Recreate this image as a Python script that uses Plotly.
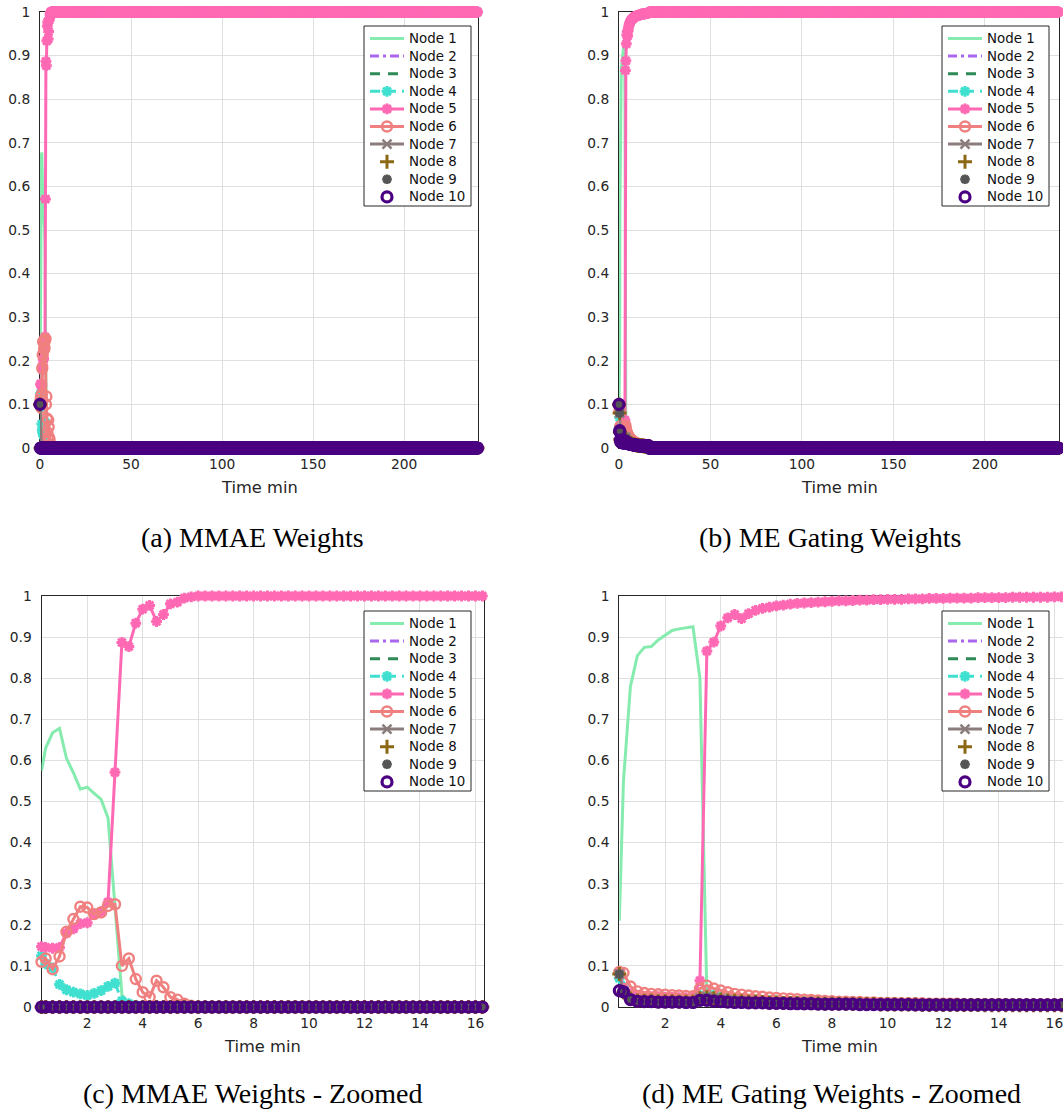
import numpy as np
import plotly.graph_objects as go

# ---------------------------------------------------------------------------
# Sample times (minutes): uniform prior at t = 0, first update at 0.35 min,
# then one update every 15 s.  The first 16.25 min are listed node by node,
# after that every weight has settled.
# ---------------------------------------------------------------------------
T_PRIOR_AND_FIRST = [0.0, 0.35]
T_STEP = 0.25
T_ZOOM_END = 16.25
T_END = 240.25

head_time = T_PRIOR_AND_FIRST + list(np.arange(0.5, T_ZOOM_END + 1e-9, T_STEP))
tail_time = list(np.arange(T_ZOOM_END + T_STEP, T_END + 1e-9, T_STEP))
N_HEAD = len(head_time)

# ---------------------------- MMAE weights ---------------------------------
MMAE_NODE1 = [0.1, 0.574, 0.63, 0.667, 0.678, 0.605, 0.57, 0.53, 0.535, 0.52,
              0.505, 0.46, 0.25, 0.03, 0.005]
MMAE_NODE2 = [0.1]
MMAE_NODE3 = [0.1]
MMAE_NODE4 = [0.1, 0.125, 0.105, 0.095, 0.055, 0.042, 0.036, 0.032, 0.028,
              0.033, 0.04, 0.05, 0.058, 0.015, 0.008, 0.004]
MMAE_NODE5 = [0.1, 0.147, 0.145, 0.143, 0.145, 0.18, 0.19, 0.203, 0.205, 0.225,
              0.232, 0.255, 0.571, 0.887, 0.877, 0.934, 0.968, 0.977, 0.938,
              0.955, 0.981, 0.985, 0.995, 0.998]
MMAE_NODE6 = [0.1, 0.11, 0.118, 0.092, 0.123, 0.183, 0.214, 0.244, 0.242,
              0.226, 0.23, 0.246, 0.25, 0.1, 0.118, 0.068, 0.036, 0.024, 0.064,
              0.048, 0.024, 0.018, 0.008, 0.003]
MMAE_NODE7 = [0.1]
MMAE_NODE8 = [0.1]
MMAE_NODE9 = [0.1]
MMAE_NODE10 = [0.1]
# level each MMAE weight holds once settled
MMAE_SETTLED = [0.0, 0.0, 0.0, 0.0, 1.0, 0.0, 0.0, 0.0, 0.0, 0.0]

# -------------------------- ME gating weights ------------------------------
ME_NODE1 = [0.1, 0.21, 0.55, 0.78, 0.855, 0.875, 0.877, 0.893, 0.905, 0.916,
            0.92, 0.923, 0.925, 0.80, 0.03, 0.005]
ME_NODE2 = [0.1, 0.08, 0.035, 0.02, 0.016, 0.015, 0.014, 0.014, 0.013, 0.013,
            0.013, 0.013, 0.013, 0.02, 0.022, 0.02, 0.018, 0.016, 0.015, 0.014,
            0.013, 0.012, 0.012, 0.011, 0.011, 0.01, 0.01, 0.01, 0.009, 0.009,
            0.009, 0.008, 0.008, 0.008, 0.008, 0.007, 0.007, 0.007, 0.007,
            0.007, 0.006, 0.006, 0.006, 0.006, 0.006, 0.006, 0.006, 0.005,
            0.005, 0.005, 0.005, 0.005, 0.005, 0.005, 0.005, 0.005, 0.005,
            0.004, 0.004, 0.004, 0.004, 0.004, 0.004, 0.004, 0.004, 0.004]
ME_NODE3 = [0.1, 0.08, 0.034, 0.019, 0.016, 0.015, 0.014, 0.013, 0.013, 0.013,
            0.012, 0.012, 0.012, 0.018, 0.021, 0.019, 0.017, 0.015, 0.014,
            0.013, 0.012, 0.012, 0.011, 0.011, 0.01, 0.01, 0.01, 0.009, 0.009,
            0.009, 0.008, 0.008, 0.008, 0.007, 0.007, 0.007, 0.007, 0.007,
            0.006, 0.006, 0.006, 0.006, 0.006, 0.006, 0.005, 0.005, 0.005,
            0.005, 0.005, 0.005, 0.005, 0.005, 0.004, 0.004, 0.004, 0.004,
            0.004, 0.004, 0.004, 0.004, 0.004, 0.004, 0.004, 0.004, 0.004,
            0.004]
ME_NODE4 = [0.1, 0.07, 0.05, 0.028, 0.022, 0.02, 0.019, 0.018, 0.018, 0.017,
            0.017, 0.017, 0.017, 0.028, 0.032, 0.03, 0.025, 0.022, 0.02, 0.019,
            0.018, 0.017, 0.016, 0.015, 0.014, 0.013, 0.013, 0.012, 0.012,
            0.011, 0.011, 0.01, 0.01, 0.01, 0.009, 0.009, 0.009, 0.008, 0.008,
            0.008, 0.008, 0.008, 0.007, 0.007, 0.007, 0.007, 0.007, 0.007,
            0.006, 0.006, 0.006, 0.006, 0.006, 0.006, 0.006, 0.006, 0.006,
            0.005, 0.005, 0.005, 0.005, 0.005, 0.005, 0.005, 0.005, 0.005]
ME_NODE5 = [0.1, 0.085, 0.045, 0.032, 0.028, 0.026, 0.025, 0.025, 0.024,
            0.024, 0.023, 0.023, 0.024, 0.064, 0.866, 0.888, 0.927, 0.947,
            0.955, 0.945, 0.957, 0.965, 0.97, 0.973, 0.976, 0.978, 0.98,
            0.982, 0.983, 0.984, 0.985, 0.986, 0.987, 0.988, 0.988, 0.989,
            0.99, 0.99, 0.991, 0.991, 0.992, 0.992, 0.992, 0.993, 0.993,
            0.993, 0.994, 0.994, 0.994, 0.995, 0.995, 0.995, 0.995, 0.996,
            0.996, 0.996, 0.996, 0.996, 0.997, 0.997, 0.997, 0.997, 0.997,
            0.997, 0.998, 0.998]
ME_NODE6 = [0.1, 0.085, 0.083, 0.05, 0.038, 0.034, 0.032, 0.031, 0.03, 0.029,
            0.028, 0.027, 0.026, 0.045, 0.052, 0.045, 0.04, 0.036, 0.032, 0.03,
            0.028, 0.026, 0.025, 0.023, 0.022, 0.021, 0.02, 0.019, 0.018,
            0.017, 0.016, 0.015, 0.014, 0.013, 0.013, 0.012, 0.012, 0.011,
            0.011, 0.01, 0.01, 0.01, 0.009, 0.009, 0.009, 0.009, 0.008, 0.008,
            0.008, 0.008, 0.008, 0.007, 0.007, 0.007, 0.007, 0.007, 0.007,
            0.007, 0.006, 0.006, 0.006, 0.006, 0.006, 0.006, 0.006, 0.006]
ME_NODE7 = [0.1, 0.08, 0.036, 0.02, 0.017, 0.016, 0.015, 0.015, 0.014, 0.014,
            0.014, 0.014, 0.014, 0.022, 0.025, 0.022, 0.019, 0.017, 0.016,
            0.015, 0.014, 0.013, 0.012, 0.012, 0.011, 0.011, 0.01, 0.01, 0.01,
            0.009, 0.009, 0.009, 0.008, 0.008, 0.008, 0.008, 0.007, 0.007,
            0.007, 0.007, 0.007, 0.006, 0.006, 0.006, 0.006, 0.006, 0.006,
            0.006, 0.005, 0.005, 0.005, 0.005, 0.005, 0.005, 0.005, 0.005,
            0.005, 0.005, 0.005, 0.004, 0.004, 0.004, 0.004, 0.004, 0.004,
            0.004]
ME_NODE8 = [0.1, 0.08, 0.036, 0.02, 0.016, 0.015, 0.015, 0.014, 0.014, 0.014,
            0.013, 0.013, 0.013, 0.021, 0.024, 0.021, 0.018, 0.016, 0.015,
            0.014, 0.013, 0.013, 0.012, 0.011, 0.011, 0.01, 0.01, 0.01, 0.009,
            0.009, 0.009, 0.008, 0.008, 0.008, 0.007, 0.007, 0.007, 0.007,
            0.007, 0.006, 0.006, 0.006, 0.006, 0.006, 0.006, 0.005, 0.005,
            0.005, 0.005, 0.005, 0.005, 0.005, 0.005, 0.005, 0.004, 0.004,
            0.004, 0.004, 0.004, 0.004, 0.004, 0.004, 0.004, 0.004, 0.004,
            0.004]
ME_NODE9 = [0.1, 0.08, 0.038, 0.02, 0.016, 0.015, 0.014, 0.014, 0.013, 0.013,
            0.013, 0.013, 0.013, 0.02, 0.022, 0.02, 0.018, 0.016, 0.015, 0.014,
            0.013, 0.012, 0.012, 0.011, 0.011, 0.01, 0.01, 0.01, 0.009, 0.009,
            0.009, 0.008, 0.008, 0.008, 0.008, 0.007, 0.007, 0.007, 0.007,
            0.007, 0.006, 0.006, 0.006, 0.006, 0.006, 0.006, 0.006, 0.005,
            0.005, 0.005, 0.005, 0.005, 0.005, 0.005, 0.005, 0.005, 0.005,
            0.004, 0.004, 0.004, 0.004, 0.004, 0.004, 0.004, 0.004, 0.004]
ME_NODE10 = [0.1, 0.04, 0.037, 0.018, 0.014, 0.013, 0.013, 0.012, 0.012,
             0.012, 0.012, 0.011, 0.011, 0.016, 0.016, 0.014, 0.013, 0.012,
             0.011, 0.011, 0.01, 0.01, 0.01, 0.009, 0.009, 0.009, 0.008,
             0.008, 0.008, 0.008, 0.007, 0.007, 0.007, 0.007, 0.007, 0.007,
             0.006, 0.006, 0.006, 0.006, 0.006, 0.006, 0.006, 0.006, 0.005,
             0.005, 0.005, 0.005, 0.005, 0.005, 0.005, 0.005, 0.005, 0.005,
             0.005, 0.005, 0.005, 0.005, 0.005, 0.005, 0.005, 0.005, 0.005,
             0.005, 0.005, 0.005]
ME_SETTLED = [0.0, 0.0, 0.0, 0.0, 1.0, 0.0, 0.0, 0.0, 0.0, 0.0]

NODE_NAMES = ["Node %d" % i for i in range(1, 11)]

# per-node line / marker style
NODE_STYLE = [
    dict(color="#86EBAE", dash="solid", line=True, symbol=None),
    dict(color="#AA66EE", dash="9px,4px,3px,4px", line=True, symbol=None),
    dict(color="#2E8B57", dash="10px,8px", line=True, symbol=None),
    dict(color="#40E0D0", dash="10px,6px", line=True, symbol="asterisk-open", size=9, mlw=3),
    dict(color="#FF69B4", dash="solid", line=True, symbol="asterisk-open", size=9, mlw=3),
    dict(color="#F08080", dash="solid", line=True, symbol="circle-open", size=10, mlw=2.4),
    dict(color="#8C7D7D", dash="solid", line=True, symbol="x-thin-open", size=9, mlw=2.6),
    dict(color="#8B6914", dash="solid", line=False, symbol="cross-thin-open", size=10, mlw=3),
    dict(color="#555555", dash="solid", line=False, symbol="asterisk-open", size=8, mlw=3),
    dict(color="#4B0082", dash="solid", line=False, symbol="circle-open", size=10, mlw=3.2),
]


def full_series(head, settled):
    """Listed values, then the settled level up to the end of the zoom window."""
    head = list(head)
    return head + [settled] * (N_HEAD - len(head))


def build(nodes, settled):
    out = []
    for vals, lvl in zip(nodes, settled):
        h = full_series(vals, lvl)
        assert len(h) == N_HEAD, len(h)
        out.append((h, [lvl] * len(tail_time)))
    return out


MMAE = build([MMAE_NODE1, MMAE_NODE2, MMAE_NODE3, MMAE_NODE4, MMAE_NODE5,
              MMAE_NODE6, MMAE_NODE7, MMAE_NODE8, MMAE_NODE9, MMAE_NODE10],
             MMAE_SETTLED)
ME = build([ME_NODE1, ME_NODE2, ME_NODE3, ME_NODE4, ME_NODE5,
            ME_NODE6, ME_NODE7, ME_NODE8, ME_NODE9, ME_NODE10],
           ME_SETTLED)

ZOOM_RANGE = [0.35, 16.31]
FULL_RANGE = [0, 240.5]

W, H = 1063, 1112
TXT = "#262626"
GRID = "#dfdfdf"
FONT = "DejaVu Sans"


def fx(px):
    return px / W


def fy(py):
    return 1 - py / H


def marker_of(style):
    return dict(symbol=style["symbol"], size=style["size"], color=style["color"],
                line=dict(color=style["color"], width=style["mlw"]))


fig = go.Figure()

# (axis suffix, dataset, zoomed?, x/y pixel extents, legend top-left corner)
panels = [
    ("", MMAE, False, [40, 478], [12, 448], (364, 26)),
    ("2", ME, False, [619, 1059], [12, 448], (942, 26)),
    ("3", MMAE, True, [41.5, 484], [596, 1007], (364, 611)),
    ("4", ME, True, [619.3, 1063], [596, 1007], (942, 611)),
]

for ax, data, zoomed, _, _, _ in panels:
    for name, style, (h, tl) in zip(NODE_NAMES, NODE_STYLE, data):
        if zoomed:
            xs = [t for t in head_time if t >= ZOOM_RANGE[0]]
            ys = [v for t, v in zip(head_time, h) if t >= ZOOM_RANGE[0]]
        else:
            xs = head_time + tail_time
            ys = h + tl
        mode = []
        if style["line"]:
            mode.append("lines")
        if style["symbol"]:
            mode.append("markers")
        kw = dict(
            x=xs, y=ys, name=name, mode="+".join(mode), showlegend=False,
            xaxis="x" + ax, yaxis="y" + ax, cliponaxis=False,
            line=dict(color=style["color"], width=3, dash=style["dash"]),
        )
        if style["symbol"]:
            kw["marker"] = marker_of(style)
        fig.add_trace(go.Scatter(**kw))

# ---- legends, drawn on a full-page overlay axis in pixel units ----
LEG_W, LEG_H = 107, 180
LEG_ROW = 17.6
annotations = []
for _, _, _, _, _, (lx, ly) in panels:
    fig.add_trace(go.Scatter(
        x=[lx, lx + LEG_W, lx + LEG_W, lx, lx], y=[ly, ly, ly + LEG_H, ly + LEG_H, ly],
        mode="lines", fill="toself", fillcolor="white",
        line=dict(color=TXT, width=1), xaxis="x5", yaxis="y5",
        showlegend=False, hoverinfo="skip"))
    for i, (name, style) in enumerate(zip(NODE_NAMES, NODE_STYLE)):
        yc = ly + 12.5 + LEG_ROW * i
        if style["line"]:
            fig.add_trace(go.Scatter(
                x=[lx + 6, lx + 40], y=[yc, yc], mode="lines",
                line=dict(color=style["color"], width=3, dash=style["dash"]),
                xaxis="x5", yaxis="y5", showlegend=False, hoverinfo="skip"))
        if style["symbol"]:
            fig.add_trace(go.Scatter(
                x=[lx + 23], y=[yc], mode="markers", marker=marker_of(style),
                xaxis="x5", yaxis="y5", showlegend=False, hoverinfo="skip",
                cliponaxis=False))
        annotations.append(dict(
            text=name, x=lx + 43, y=yc, xref="x5", yref="y5",
            xanchor="left", yanchor="middle", showarrow=False,
            font=dict(family=FONT, size=13.4, color="#111111")))

axis_common = dict(
    showline=True, mirror=True, linecolor=TXT, linewidth=1,
    showgrid=True, gridcolor=GRID, gridwidth=1, zeroline=False,
    ticks="", tickfont=dict(family=FONT, size=13.8, color=TXT),
    layer="below traces", automargin=False, ticklabeloverflow="allow",
)

layout_axes = {}
for ax, _, zoomed, xpx, ypx, _ in panels:
    xa = dict(axis_common)
    xa.update(domain=[fx(xpx[0]), fx(xpx[1])], anchor="y" + ax,
              ticklabelstandoff=3)
    if zoomed:
        xa.update(range=ZOOM_RANGE, tickvals=[2, 4, 6, 8, 10, 12, 14, 16])
    else:
        xa.update(range=FULL_RANGE, tickvals=[0, 50, 100, 150, 200])
    ya = dict(axis_common)
    ya.update(domain=[fy(ypx[1]), fy(ypx[0])], anchor="x" + ax, range=[0, 1],
              tickvals=[0, 0.1, 0.2, 0.3, 0.4, 0.5, 0.6, 0.7, 0.8, 0.9, 1],
              ticktext=["0", "0.1", "0.2", "0.3", "0.4", "0.5", "0.6", "0.7",
                        "0.8", "0.9", "1"],
              ticklabelstandoff=6)
    layout_axes["xaxis" + ax] = xa
    layout_axes["yaxis" + ax] = ya
    # x-axis title
    annotations.append(dict(
        text="Time min", x=(xpx[0] + min(xpx[1], 1059)) / 2, y=ypx[1] + 39,
        xref="x5", yref="y5", xanchor="center", yanchor="middle",
        showarrow=False, font=dict(family=FONT, size=16.3, color=TXT)))

layout_axes["xaxis5"] = dict(domain=[0, 1], range=[0, W], visible=False,
                             fixedrange=True, anchor="y5", automargin=False)
layout_axes["yaxis5"] = dict(domain=[0, 1], range=[H, 0], visible=False,
                             fixedrange=True, anchor="x5", automargin=False)

captions = [
    ("(a) MMAE Weights", 252, 537),
    ("(b) ME Gating Weights", 830, 537),
    ("(c) MMAE Weights - Zoomed", 252, 1093),
    ("(d) ME Gating Weights - Zoomed", 831, 1093),
]
for t, cx, cy in captions:
    annotations.append(dict(
        text=t, x=cx, y=cy, xref="x5", yref="y5",
        xanchor="center", yanchor="middle", showarrow=False,
        font=dict(family="Liberation Serif", size=28, color="#000000")))

fig.update_layout(
    width=W, height=H,
    margin=dict(l=0, r=0, t=0, b=0, pad=0, autoexpand=False),
    paper_bgcolor="white", plot_bgcolor="rgba(0,0,0,0)",
    showlegend=False, annotations=annotations, **layout_axes,
)

fig.write_html("out.html")
